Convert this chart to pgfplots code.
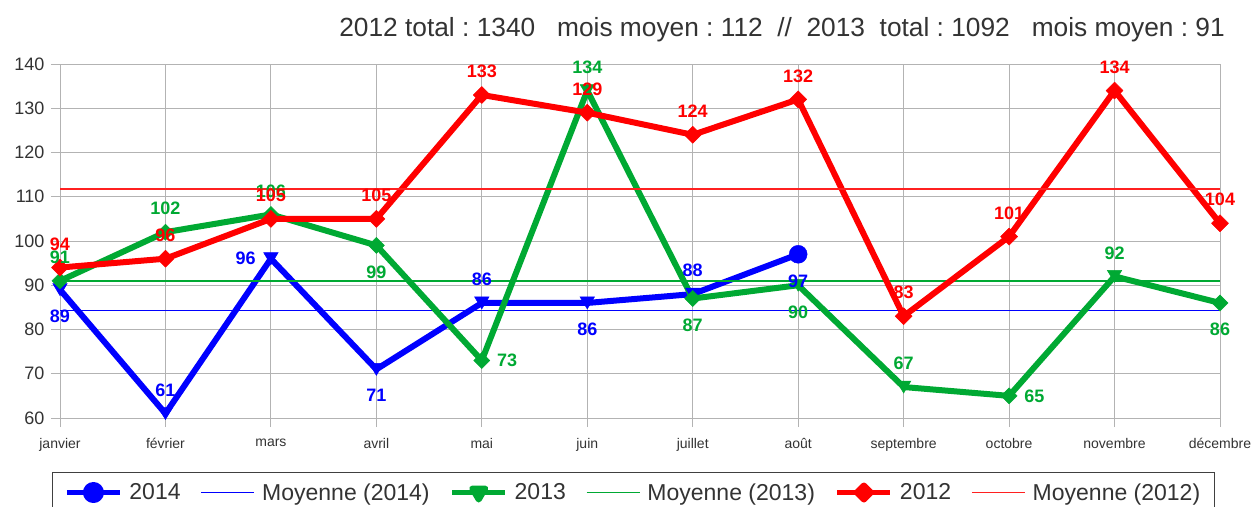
\documentclass[border=0pt]{standalone}
\usepackage{pgfplots}
\pgfplotsset{compat=1.18}
\usepackage{fontspec}
\setmainfont{Liberation Sans}
\frenchspacing
\definecolor{cb}{HTML}{0000FF}
\definecolor{cg}{HTML}{00A933}
\definecolor{cr}{HTML}{FF0000}
\definecolor{crm}{HTML}{FF2020}
\definecolor{tg}{HTML}{333333}
\definecolor{gridg}{HTML}{B3B3B3}
\pgfdeclareplotmark{tridown}{%
  \pgfpathmoveto{\pgfqpoint{-0.9\pgfplotmarksize}{0.75\pgfplotmarksize}}%
  \pgfpathlineto{\pgfqpoint{0.9\pgfplotmarksize}{0.75\pgfplotmarksize}}%
  \pgfpathlineto{\pgfqpoint{0pt}{-0.75\pgfplotmarksize}}%
  \pgfpathclose\pgfusepathqfillstroke}
\pgfdeclareplotmark{dia}{%
  \pgfpathmoveto{\pgfqpoint{0pt}{\pgfplotmarksize}}%
  \pgfpathlineto{\pgfqpoint{\pgfplotmarksize}{0pt}}%
  \pgfpathlineto{\pgfqpoint{0pt}{-\pgfplotmarksize}}%
  \pgfpathlineto{\pgfqpoint{-\pgfplotmarksize}{0pt}}%
  \pgfpathclose\pgfusepathqfillstroke}
\pgfplotsset{
  lab/.style={forget plot, draw=none, mark=none, nodes near coords,
    nodes near coords style={font=\bfseries\fontsize{18}{20}\selectfont, inner sep=0pt, text=#1}},
  ab/.style={nodes near coords style={anchor=south, yshift=17pt}},
  be/.style={nodes near coords style={anchor=north, yshift=-20pt}},
  ri/.style={nodes near coords style={anchor=west, xshift=15pt}},
  le/.style={nodes near coords style={anchor=east, xshift=-15pt}},
}
\begin{document}
\begin{tikzpicture}
\begin{axis}[
  scale only axis, width=1160pt, height=354pt,
  xmin=0, xmax=11, ymin=60, ymax=140,
  xtick={0,...,11},
  xticklabels={janvier,février,mars,avril,mai,juin,juillet,août,septembre,octobre,novembre,décembre},
  ytick={60,70,...,140},
  /pgf/number format/assume math mode=true,
  grid=major, major grid style={draw=gridg, line width=0.9pt},
  axis line style={draw=gridg, line width=0.9pt},
  tick style={draw=gridg, line width=0.9pt},
  tick align=outside, tick pos=left, major tick length=9pt,
  xticklabel style={font=\fontsize{14}{16}\selectfont, text=tg, yshift=-8pt},
  yticklabel style={font=\fontsize{18}{20}\selectfont, text=tg, xshift=-3pt},
  clip=false,
  legend columns=6,
  legend style={at={(-0.0069,-0.1525)}, anchor=north west, draw=black!75, line width=0.9pt,
    font=\fontsize{23}{27}\selectfont, text=tg,
    /tikz/every even column/.append style={column sep=18pt},
    /tikz/every odd column/.append style={column sep=5pt},
    inner xsep=12pt, inner ysep=9pt},
  legend image code/.code={\draw[#1] (0pt,0pt) -- (53pt,0pt);},
]
% 2014
\addplot[cb, line width=6pt, line join=round, mark=none,
  legend image code/.code={\draw[cb, line width=5pt] (0pt,0pt) -- (53pt,0pt); \fill[cb] (26.5pt,0pt) circle (7.5pt);}]
  coordinates {(0,89)(1,61)(2,96)(3,71)(4,86)(5,86)(6,88)(7,97)};
\addlegendentry{2014}
\addplot[forget plot, only marks, mark=tridown, mark size=8pt, cb, mark options={fill=cb, draw=cb, line width=0.5pt}]
  coordinates {(0,89)(1,61)(2,96)(3,71)(4,86)(5,86)(6,88)};
\addplot[forget plot, only marks, mark=*, mark size=9pt, cb, mark options={fill=cb, draw=cb}]
  coordinates {(7,97)};
\addplot[color=cb, line width=1.6pt, mark=none] coordinates {(0,84.25)(11,84.25)};
\addlegendentry{Moyenne (2014)}
% 2013
\addplot[cg, line width=6pt, line join=round, mark=none,
  legend image code/.code={\draw[cg, line width=5pt] (0pt,0pt) -- (53pt,0pt); \fill[cg] (20pt,4pt) -- (33pt,4pt) -- (26.5pt,-7pt) -- cycle;}]
  coordinates {(0,91)(1,102)(2,106)(3,99)(4,73)(5,134)(6,87)(7,90)(8,67)(9,65)(10,92)(11,86)};
\addlegendentry{2013}
\addplot[forget plot, only marks, mark=tridown, mark size=8pt, cg, mark options={fill=cg, draw=cg, line width=0.5pt}]
  coordinates {(5,134)(7,90)(8,67)(10,92)};
\addplot[forget plot, only marks, mark=dia, mark size=8pt, cg, mark options={fill=cg, draw=cg, line width=0.5pt}]
  coordinates {(0,91)(1,102)(2,106)(3,99)(4,73)(6,87)(9,65)(11,86)};
\addplot[color=cg, line width=1.6pt, mark=none] coordinates {(0,91)(11,91)};
\addlegendentry{Moyenne (2013)}
% 2012
\addplot[cr, line width=6pt, line join=round, mark=dia, mark size=8.5pt, mark options={fill=cr, draw=cr, line width=0.5pt},
  legend image code/.code={\draw[cr, line width=5pt] (0pt,0pt) -- (53pt,0pt); \fill[cr] (26.5pt,7pt) -- (33.5pt,0pt) -- (26.5pt,-7pt) -- (19.5pt,0pt) -- cycle;}]
  coordinates {(0,94)(1,96)(2,105)(3,105)(4,133)(5,129)(6,124)(7,132)(8,83)(9,101)(10,134)(11,104)};
\addlegendentry{2012}
\addplot[draw=crm, line width=1.6pt, mark=none] coordinates {(0,111.7)(11,111.7)};
\addlegendentry{Moyenne (2012)}
% labels 2014
\addplot[lab=cb, ab] coordinates {(1,61)(4,86)(6,88)};
\addplot[lab=cb, be] coordinates {(0,89)(3,71)(5,86)(7,97)};
\addplot[lab=cb, le] coordinates {(2,96)};
% labels 2013
\addplot[lab=cg, ab] coordinates {(0,91)(1,102)(2,106)(5,134)(8,67)(10,92)};
\addplot[lab=cg, be] coordinates {(3,99)(6,87)(7,90)(11,86)};
\addplot[lab=cg, ri] coordinates {(4,73)(9,65)};
% labels 2012
\addplot[lab=cr, ab] coordinates {(0,94)(1,96)(2,105)(3,105)(4,133)(5,129)(6,124)(7,132)(8,83)(9,101)(10,134)(11,104)};
\end{axis}
\node[anchor=east, text=tg, font=\fontsize{26.3}{30}\selectfont, inner sep=0pt] at (1165pt,388pt)
  {2012 total : 1340~~~mois moyen : 112~~//~~2013~~total : 1092~~~mois moyen : 91};
\pgfresetboundingbox
\useasboundingbox (-60pt,-88pt) rectangle (1197pt,418pt);
\end{tikzpicture}
\end{document}
